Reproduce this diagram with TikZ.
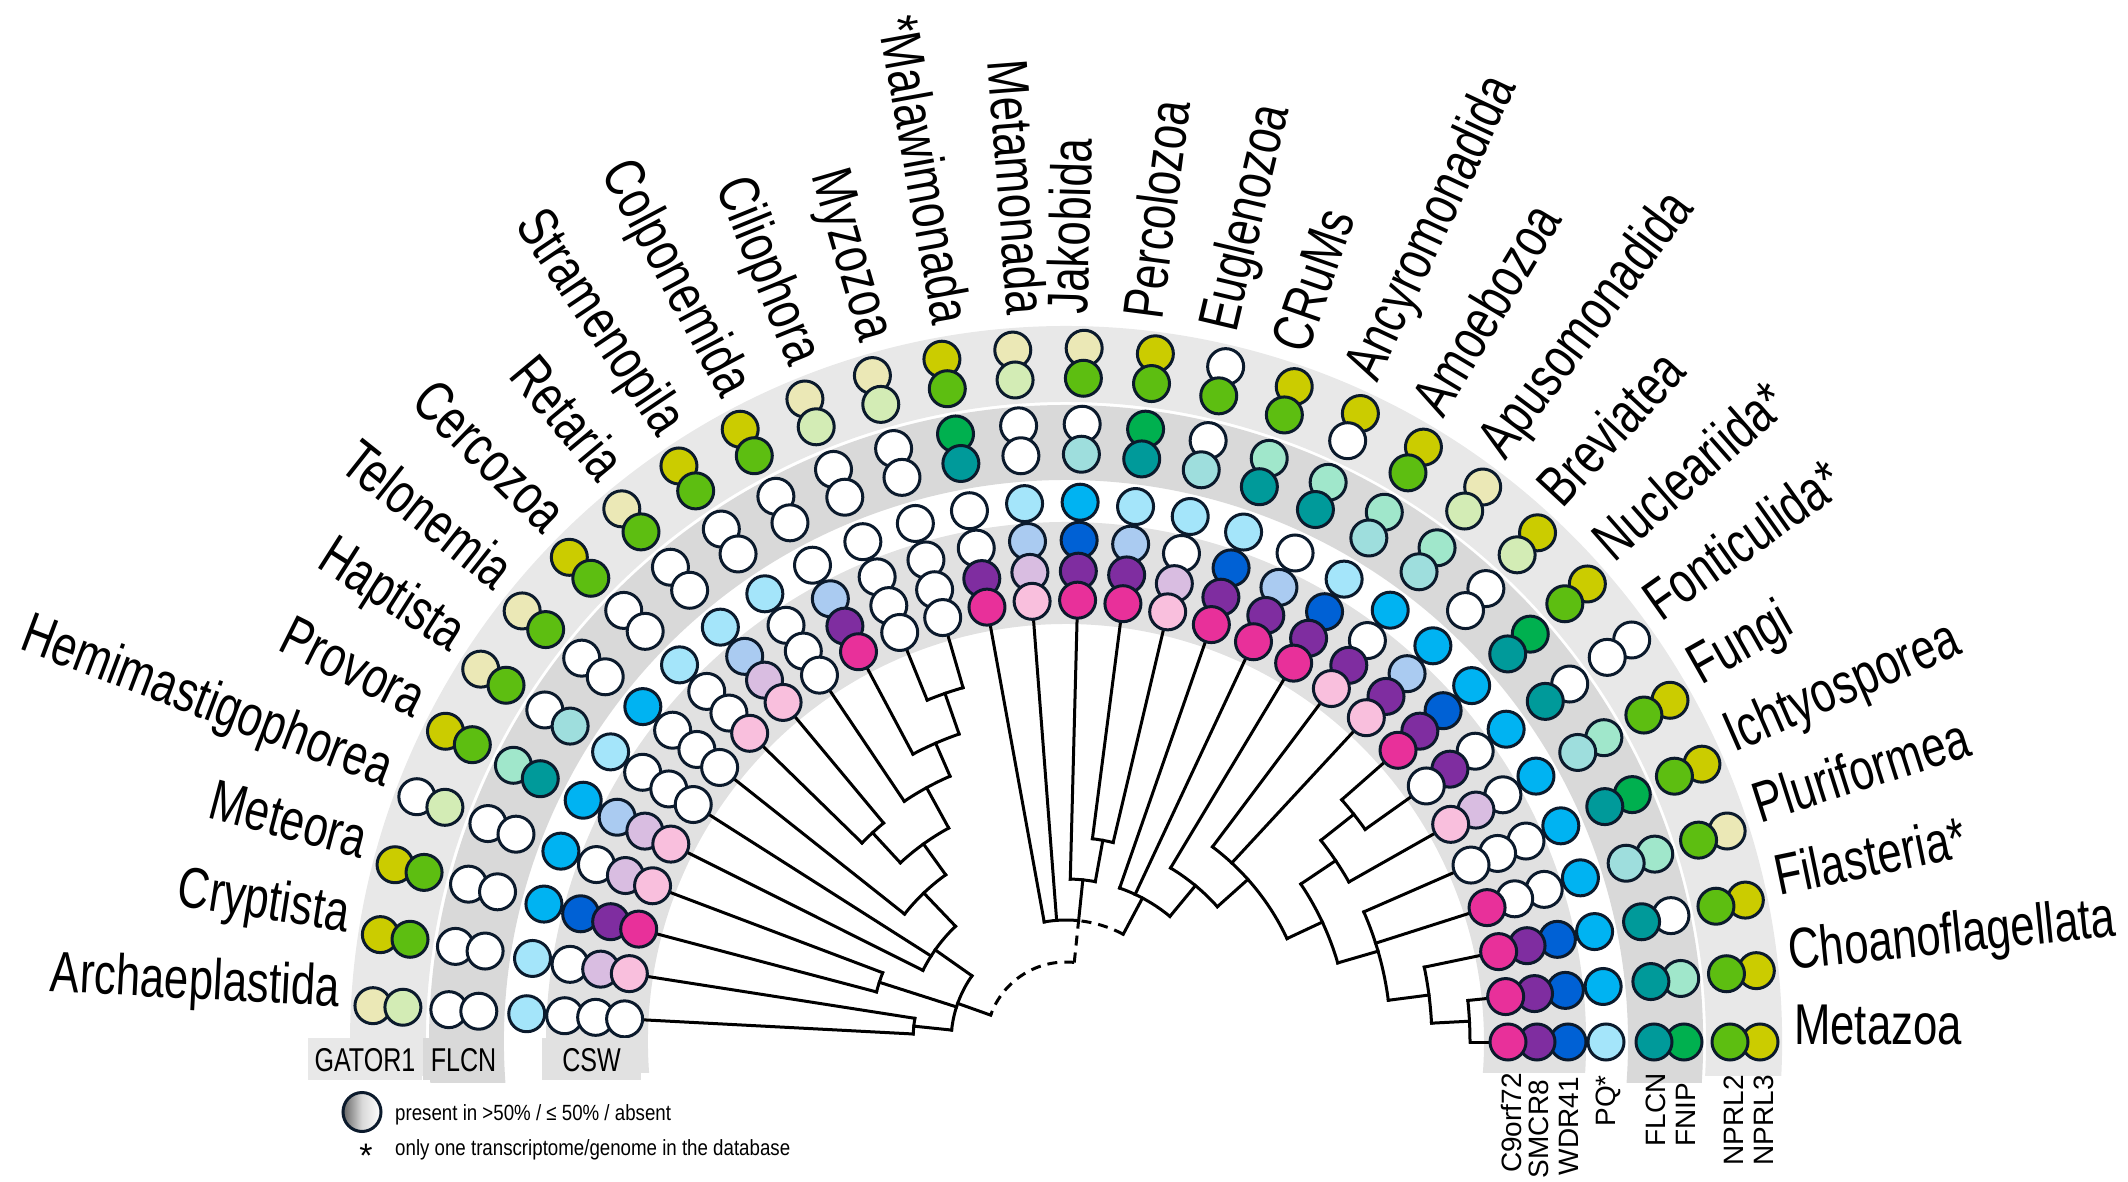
\documentclass[tikz,border=0pt]{standalone}
\usepackage{fontspec}
\setmainfont{Liberation Sans}
\newfontfamily\nf[FakeStretch=0.76]{Liberation Sans}
\newfontfamily\lf[FakeStretch=0.85]{Liberation Sans}
\definecolor{bandA}{HTML}{E8E8E8}
\definecolor{bandB}{HTML}{D9D9D9}
\definecolor{bandC}{HTML}{E1E1E1}
\definecolor{cl}{HTML}{0B1A2C}
\definecolor{CnP}{HTML}{E8309A}\definecolor{CnQ}{HTML}{F9BFDD}\colorlet{CnA}{white}
\definecolor{SmP}{HTML}{7F2DA0}\definecolor{SmQ}{HTML}{D9BDE1}\colorlet{SmA}{white}
\definecolor{WdP}{HTML}{0061D5}\definecolor{WdQ}{HTML}{AACBF1}\colorlet{WdA}{white}
\definecolor{PqP}{HTML}{00B3F2}\definecolor{PqQ}{HTML}{A4E5FA}\colorlet{PqA}{white}
\definecolor{FlP}{HTML}{009A9A}\definecolor{FlQ}{HTML}{9EDEDD}\colorlet{FlA}{white}
\definecolor{FnP}{HTML}{00B04F}\definecolor{FnQ}{HTML}{A0E7CB}\colorlet{FnA}{white}
\definecolor{NwP}{HTML}{5DBE11}\definecolor{NwQ}{HTML}{D3ECB5}\colorlet{NwA}{white}
\definecolor{NtP}{HTML}{CBCC00}\definecolor{NtQ}{HTML}{EBE8B6}\colorlet{NtA}{white}
\tikzset{
 tree/.style={line width=3pt, line cap=rect, black},
 dtree/.style={line width=3pt, line cap=butt, black, dash pattern=on 10pt off 7pt},
 lab/.style={font=\nf\fontsize{57.5}{60}\selectfont, inner sep=0pt},
 colname/.style={font=\fontsize{28}{30}\selectfont, rotate=90, anchor=east, inner sep=0pt},
 boxlab/.style={font=\nf\fontsize{33}{35}\selectfont, inner sep=0pt},
 leg/.style={font=\lf\fontsize{22}{24}\selectfont, anchor=west, inner sep=0pt},
}
\newcommand\tc[2]{\filldraw[fill=#2,draw=cl,line width=3pt] (\ang:#1) circle[radius=18pt];}
\def\circs#1#2#3#4#5#6#7#8\relax{\tc{694}{Nt#1}\tc{664}{Nw#2}\tc{618}{Fn#3}\tc{588}{Fl#4}\tc{540}{Pq#5}\tc{502}{Wd#6}\tc{471}{Sm#7}\tc{442}{Cn#8}}
\newcommand\taxon[3]{\pgfmathsetmacro\ang{177-5.9*#1}\circs#3\relax
 \ifdim\ang pt>90pt \node[lab,anchor=mid east,rotate=\ang-180] (t#1) at (\ang:728) {#2};%
 \else \node[lab,anchor=mid west,rotate=\ang] (t#1) at (\ang:728) {#2};\fi}
\newcommand\tip[2]{\pgfmathsetmacro\ta{177-5.9*#1}\draw[tree] (\ta:#2) -- (\ta:440);}
% node: angle, parent radius, node radius, arc from, arc to
\newcommand\nd[5]{\draw[tree] (#1:#2) -- (#1:#3); \draw[tree] (#4:#3) arc[start angle=#4,end angle=#5,radius=#3pt];}
\begin{document}
\begin{tikzpicture}[x=1pt,y=1pt]
\useasboundingbox (0,0) rectangle (2128,1181);
\begin{scope}[shift={(1066,139)}]
 \begin{scope}\clip (-1066,-33) rectangle (1062,1042);
  \fill[bandA] (-10:716) arc[start angle=-10,end angle=190,radius=716pt] -- (190:640) arc[start angle=190,end angle=-10,radius=640pt] -- cycle;
 \end{scope}
 \begin{scope}\clip (-1066,-40) rectangle (1062,1042);
  \fill[bandB] (-10:637) arc[start angle=-10,end angle=190,radius=637pt] -- (190:562) arc[start angle=190,end angle=-10,radius=562pt] -- cycle;
 \end{scope}
 \begin{scope}\clip (-1066,-30) rectangle (1062,1042);
  \fill[bandC] (-10:520) arc[start angle=-10,end angle=190,radius=520pt] -- (190:418) arc[start angle=190,end angle=-10,radius=418pt] -- cycle;
 \end{scope}
 % root (uncertain, dashed)
 \draw[dtree] (84.075:80) arc[start angle=84.075,end angle=160.386,radius=80pt];
 \draw[dtree] (84.075:80) -- (84.075:122);
 \draw[dtree] (62.03:122) arc[start angle=62.03,end angle=84.075,radius=122pt];
 \draw[tree] (84.075:122) arc[start angle=84.075,end angle=100.3,radius=122pt];
 % Diaphoretickes
 \nd{160.386}{80}{115}{144.857}{174.05}
 \nd{174.05}{115}{153}{171.1}{177}
 \nd{162.25}{115}{196}{159.3}{165.2}
 \nd{144.857}{115}{160}{133.67}{153.4}
 \nd{133.67}{160}{206}{125.74}{141.6}
 \nd{125.74}{206}{244}{118.7375}{132.75}
 \nd{132.75}{244}{285}{129.8}{135.7}
 \nd{118.7375}{244}{290}{113.575}{123.9}
 \nd{113.575}{290}{326}{109.15}{118}
 \nd{109.15}{326}{369}{106.2}{112.1}
 \tip{0}{153}\tip{1}{153}\tip{2}{196}\tip{3}{196}\tip{4}{160}\tip{5}{160}
 \tip{6}{206}\tip{7}{285}\tip{8}{285}\tip{9}{290}\tip{10}{326}\tip{11}{369}\tip{12}{369}
 % Malawimonada, Metamonada, Discoba
 \tip{13}{122}\tip{14}{122}
 \nd{84.075}{122}{163}{79.65}{88.5}
 \nd{79.65}{163}{205}{76.7}{82.6}
 \tip{15}{163}\tip{16}{205}\tip{17}{205}
 % CRuMs + Amorphea
 \nd{62.03}{122}{163}{50.395}{70.8}
 \nd{50.395}{163}{203}{41.79}{59}
 \nd{41.79}{203}{244}{25.075}{53.1}
 \nd{25.075}{244}{283}{16.225}{33.925}
 \nd{33.925}{283}{325}{29.5}{38.35}
 \nd{38.35}{325}{367}{35.4}{41.3}
 \nd{16.225}{283}{325}{7.375}{23.6}
 \nd{7.375}{325}{366}{2.95}{11.8}
 \nd{2.95}{366}{404}{0}{5.9}
 \tip{18}{163}\tip{19}{163}\tip{20}{203}\tip{21}{244}\tip{22}{244}\tip{23}{367}\tip{24}{367}
 \tip{25}{325}\tip{26}{325}\tip{27}{325}\tip{28}{366}\tip{29}{404}\tip{30}{404}
 % taxa: codes N3 N2 FNIP FLCN PQ WDR41 SMCR8 C9orf72
 \taxon{0}{Archaeplastida}{QQAAQAAA}
 \taxon{1}{Cryptista}{PPAAQAQQ}
 \taxon{2}{Meteora}{PPAAPPPP}
 \taxon{3}{Hemimastigophorea}{AQAAPAQQ}
 \taxon{4}{Provora}{PPQPPQQQ}
 \taxon{5}{Haptista}{QPAQQAAA}
 \taxon{6}{Telonemia}{QPAAPAAA}
 \taxon{7}{Cercozoa}{PPAAQAAQ}
 \taxon{8}{Retaria}{QPAAQQQQ}
 \taxon{9}{Stramenopila}{PPAAQAAA}
 \taxon{10}{Colponemida}{PPAAAQPP}
 \taxon{11}{Ciliophora}{QQAAAAAA}
 \taxon{12}{Myzozoa}{QQAAAAAA}
 \taxon{13}{*Malawimonada}{PPPPAAPP}
 \taxon{14}{Metamonada}{QQAAQQQQ}
 \taxon{15}{Jakobida}{QPAQPPPP}
 \taxon{16}{Percolozoa}{PPPPQQPP}
 \taxon{17}{Euglenozoa}{APAQQAQQ}
 \taxon{18}{CRuMs}{PPQPQPPP}
 \taxon{19}{Ancyromonadida}{PAQPAQPP}
 \taxon{20}{Amoebozoa}{PPQQQPPP}
 \taxon{21}{Apusomonadida}{QQQQPAPQ}
 \taxon{22}{Breviatea}{PQAAPQPQ}
 \taxon{23}{Nucleariida*}{PPPPPPPP}
 \taxon{24}{Fonticulida*}{AAAPPAPA}
 \taxon{25}{Fungi}{PPQQPAQQ}
 \taxon{26}{Ichtyosporea}{PPPPPAAA}
 \taxon{27}{Pluriformea}{QPQQPAAP}
 \taxon{28}{Filasteria*}{PPAPPPPP}
 \taxon{29}{Choanoflagellata}{PPQPPPPP}
 \taxon{30}{Metazoa}{PPPPQPPP}
\end{scope}
\fill[bandA] (308,101) rectangle (422,143);
\fill[bandB] (423,101) rectangle (504,143);
\fill[bandC] (542,101) rectangle (641,143);
\node[boxlab] (gG) at (365,121) {GATOR1};
\node[boxlab] (gF) at (463.5,121) {FLCN};
\node[boxlab] (gC) at (591.5,121) {CSW};
\node[colname] (k1) at (1511,108) {C9orf72};
\node[colname] (k2) at (1539,101) {SMCR8};
\node[colname] (k3) at (1569,104) {WDR41};
\node[colname] (k4) at (1608,106) {PQ*};
\node[colname] (k5) at (1656,108) {FLCN};
\node[colname] (k6) at (1686,98) {FNIP};
\node[colname] (k7) at (1734,106) {NPRL2};
\node[colname] (k8) at (1764,106) {NPRL3};
\shade[left color=black!60, right color=white, middle color=black!15] (362,69) ellipse[x radius=19pt, y radius=19.5pt];
\draw[cl, line width=3pt] (362,69) ellipse[x radius=19pt, y radius=19.5pt];
\node[leg] (l1) at (395,66) {present in >50\% / ≤ 50\% / absent};
\node[font=\fontsize{34}{34}\selectfont, inner sep=0pt] (ast) at (366,25) {*};
\node[leg] (l2) at (395,31) {only one transcriptome/genome in the database};
\end{tikzpicture}
\end{document}
